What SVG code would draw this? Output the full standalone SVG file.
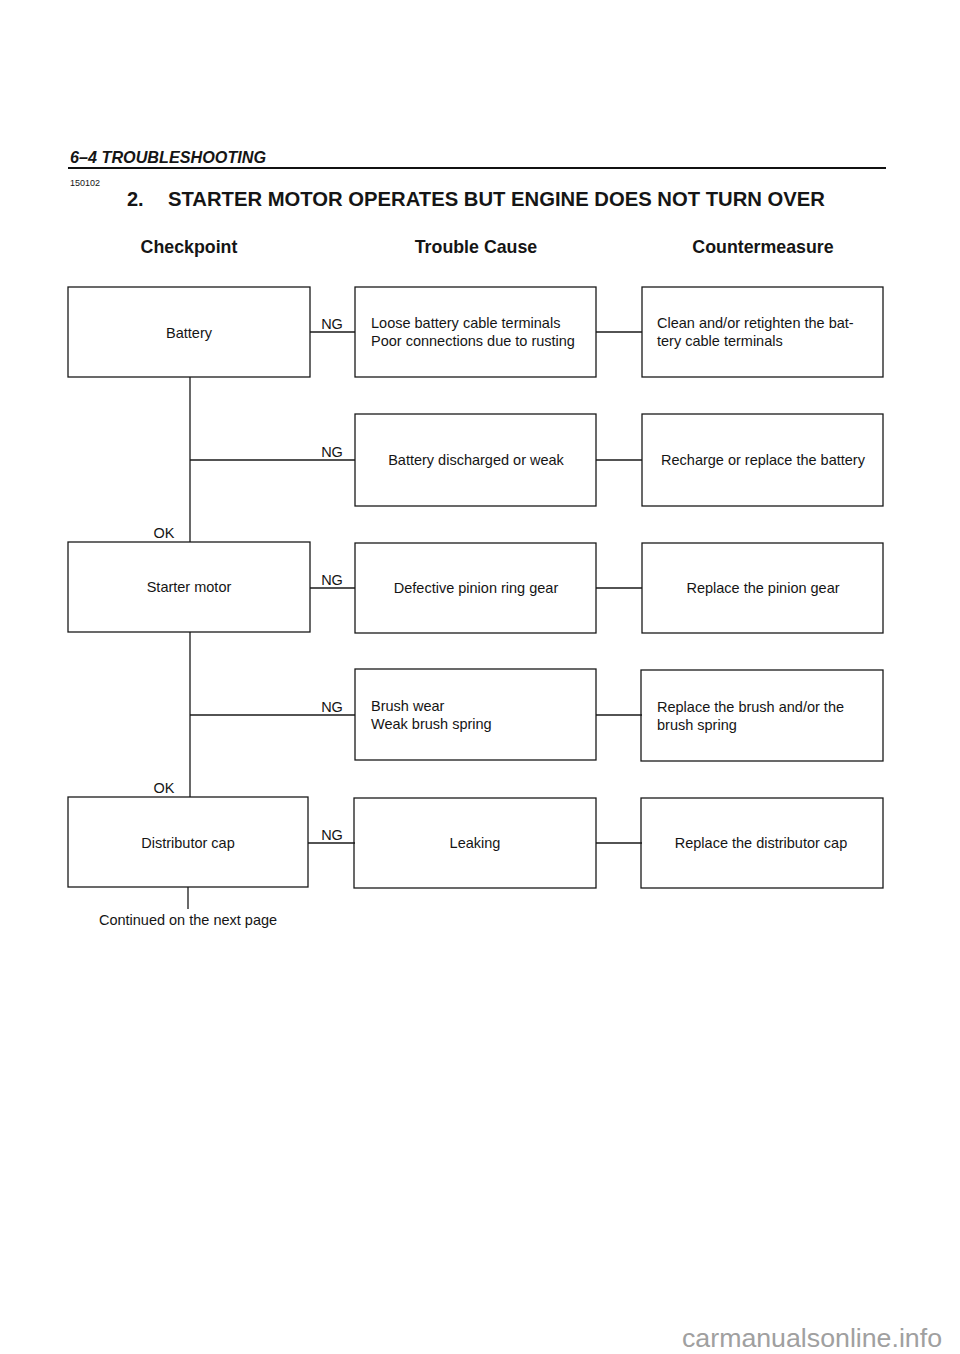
<svg xmlns="http://www.w3.org/2000/svg" width="960" height="1354" viewBox="0 0 960 1354">
<style>
.box{fill:none;stroke:#1a1a1a;stroke-width:1.3}
.ln{fill:none;stroke:#1a1a1a;stroke-width:1.3}
text{font-family:"Liberation Sans",Arial,sans-serif;fill:#151515}
.t{font-size:14.5px}
.c{font-size:14.5px;text-anchor:middle}
.h{font-size:17.8px;font-weight:bold;text-anchor:middle}
</style>
<rect width="960" height="1354" fill="#fff"/>
<g id="header">
<text x="70" y="163" font-size="16.2" font-weight="bold" font-style="italic">6–4  TROUBLESHOOTING</text>
<line x1="68" y1="168" x2="886" y2="168" stroke="#111" stroke-width="2.2"/>
<text x="70" y="186" font-size="9">150102</text>
<text x="127" y="206" font-size="20" font-weight="bold">2.</text>
<text x="168" y="206" font-size="20" font-weight="bold" textLength="657" lengthAdjust="spacingAndGlyphs">STARTER MOTOR OPERATES BUT ENGINE DOES NOT TURN OVER</text>
<text class="h" x="189" y="253">Checkpoint</text>
<text class="h" x="476" y="253">Trouble Cause</text>
<text class="h" x="763" y="253">Countermeasure</text>
</g>
<g id="connectors">
<line class="ln" x1="310" y1="332" x2="355" y2="332"/>
<line class="ln" x1="596" y1="332" x2="642" y2="332"/>
<line class="ln" x1="190" y1="377" x2="190" y2="542"/>
<line class="ln" x1="190" y1="460" x2="355" y2="460"/>
<line class="ln" x1="596" y1="460" x2="642" y2="460"/>
<line class="ln" x1="310" y1="588" x2="355" y2="588"/>
<line class="ln" x1="596" y1="588" x2="642" y2="588"/>
<line class="ln" x1="190" y1="632" x2="190" y2="797"/>
<line class="ln" x1="190" y1="715" x2="355" y2="715"/>
<line class="ln" x1="596" y1="715" x2="642" y2="715"/>
<line class="ln" x1="308" y1="843" x2="355" y2="843"/>
<line class="ln" x1="596" y1="843" x2="642" y2="843"/>
<line class="ln" x1="188" y1="887" x2="188" y2="909"/>
<text class="c" x="332" y="329">NG</text>
<text class="c" x="332" y="457">NG</text>
<text class="c" x="332" y="585">NG</text>
<text class="c" x="332" y="712">NG</text>
<text class="c" x="332" y="840">NG</text>
<text class="c" x="164" y="538">OK</text>
<text class="c" x="164" y="793">OK</text>
</g>
<g id="n-battery"><rect class="box" x="68" y="287" width="242" height="90"/><text class="c" x="189" y="338">Battery</text></g>
<g id="n-loose"><rect class="box" x="355" y="287" width="241" height="90"/><text class="t" x="371" y="328">Loose battery cable terminals</text><text class="t" x="371" y="346">Poor connections due to rusting</text></g>
<g id="n-clean"><rect class="box" x="642" y="287" width="241" height="90"/><text class="t" x="657" y="328">Clean and/or retighten the bat-</text><text class="t" x="657" y="346">tery cable terminals</text></g>
<g id="n-discharged"><rect class="box" x="355" y="414" width="241" height="92"/><text class="c" x="476" y="465">Battery discharged or weak</text></g>
<g id="n-recharge"><rect class="box" x="642" y="414" width="241" height="92"/><text class="c" x="763" y="465">Recharge or replace the battery</text></g>
<g id="n-starter"><rect class="box" x="68" y="542" width="242" height="90"/><text class="c" x="189" y="592">Starter motor</text></g>
<g id="n-pinion"><rect class="box" x="355" y="543" width="241" height="90"/><text class="c" x="476" y="593">Defective pinion ring gear</text></g>
<g id="n-replace-pinion"><rect class="box" x="642" y="543" width="241" height="90"/><text class="c" x="763" y="593">Replace the pinion gear</text></g>
<g id="n-brush"><rect class="box" x="355" y="669" width="241" height="91"/><text class="t" x="371" y="711">Brush wear</text><text class="t" x="371" y="729">Weak brush spring</text></g>
<g id="n-replace-brush"><rect class="box" x="641" y="670" width="242" height="91"/><text class="t" x="657" y="712">Replace the brush and/or the</text><text class="t" x="657" y="730">brush spring</text></g>
<g id="n-distributor"><rect class="box" x="68" y="797" width="240" height="90"/><text class="c" x="188" y="848">Distributor cap</text></g>
<g id="n-leaking"><rect class="box" x="354" y="798" width="242" height="90"/><text class="c" x="475" y="848">Leaking</text></g>
<g id="n-replace-cap"><rect class="box" x="641" y="798" width="242" height="90"/><text class="c" x="761" y="848">Replace the distributor cap</text></g>
<text class="c" x="188" y="925">Continued on the next page</text>
<text x="682" y="1347" font-size="25" textLength="260" lengthAdjust="spacingAndGlyphs" style="fill:#a0a0a0">carmanualsonline.info</text>
</svg>
